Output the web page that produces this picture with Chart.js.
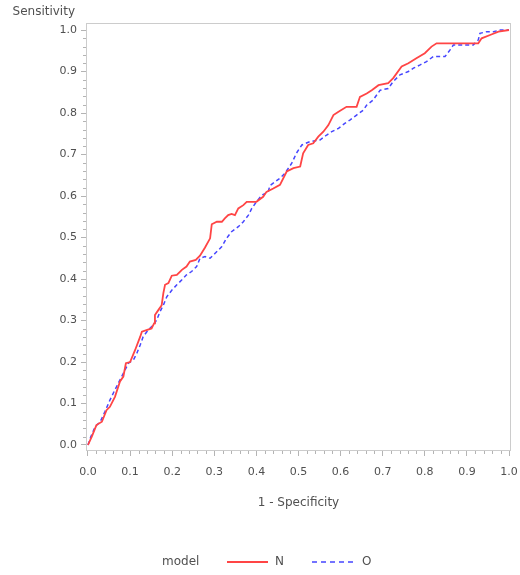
<!DOCTYPE html>
<html>
<head>
<meta charset="utf-8">
<script src="https://cdn.jsdelivr.net/npm/chart.js@4"></script>
<style>
  html, body { margin: 0; padding: 0; background: #ffffff; }
  #wrap { width: 520px; height: 575px; position: relative; }
</style>
</head>
<body>
<div id="wrap"><canvas id="c" width="520" height="575"></canvas></div>
<script>
// ---- data ----
const seriesNames = ['N', 'O'];
const legendTitle = 'model';
const xTitle = '1 - Specificity';
const yTitle = 'Sensitivity';
const tickValues = [0, 0.1, 0.2, 0.3, 0.4, 0.5, 0.6, 0.7, 0.8, 0.9, 1.0];

const xN = [0, 0.009, 0.02, 0.033, 0.044, 0.052, 0.064, 0.076, 0.084, 0.09, 0.1, 0.112, 0.124, 0.128, 0.139, 0.151, 0.157, 0.159, 0.167, 0.175, 0.179, 0.183, 0.191, 0.199, 0.211, 0.223, 0.234, 0.242, 0.256, 0.266, 0.278, 0.29, 0.294, 0.306, 0.318, 0.325, 0.333, 0.341, 0.349, 0.357, 0.369, 0.377, 0.4, 0.416, 0.424, 0.44, 0.456, 0.472, 0.488, 0.504, 0.511, 0.523, 0.535, 0.547, 0.559, 0.571, 0.583, 0.595, 0.614, 0.638, 0.646, 0.662, 0.674, 0.69, 0.713, 0.725, 0.745, 0.761, 0.78, 0.8, 0.816, 0.828, 0.868, 0.907, 0.927, 0.935, 0.955, 0.975, 1.0];
const yN = [0, 0.02, 0.048, 0.056, 0.084, 0.092, 0.116, 0.153, 0.165, 0.197, 0.2, 0.229, 0.261, 0.273, 0.277, 0.281, 0.293, 0.313, 0.325, 0.337, 0.366, 0.386, 0.39, 0.408, 0.41, 0.422, 0.43, 0.442, 0.446, 0.456, 0.476, 0.498, 0.532, 0.538, 0.538, 0.546, 0.554, 0.557, 0.554, 0.57, 0.578, 0.586, 0.586, 0.598, 0.61, 0.618, 0.627, 0.659, 0.667, 0.671, 0.703, 0.723, 0.727, 0.743, 0.755, 0.771, 0.795, 0.803, 0.815, 0.815, 0.839, 0.847, 0.855, 0.867, 0.872, 0.884, 0.912, 0.92, 0.932, 0.944, 0.96, 0.968, 0.968, 0.968, 0.968, 0.98, 0.988, 0.996, 1.0];

const xO = [0, 0.006, 0.017, 0.029, 0.04, 0.052, 0.064, 0.076, 0.088, 0.096, 0.108, 0.116, 0.124, 0.131, 0.143, 0.155, 0.163, 0.171, 0.179, 0.187, 0.199, 0.211, 0.223, 0.234, 0.246, 0.258, 0.266, 0.278, 0.29, 0.302, 0.318, 0.329, 0.341, 0.357, 0.369, 0.381, 0.389, 0.4, 0.413, 0.428, 0.432, 0.456, 0.468, 0.484, 0.495, 0.508, 0.527, 0.551, 0.567, 0.579, 0.595, 0.61, 0.622, 0.638, 0.654, 0.662, 0.677, 0.694, 0.713, 0.725, 0.741, 0.761, 0.773, 0.789, 0.804, 0.82, 0.848, 0.86, 0.868, 0.884, 0.915, 0.927, 0.931, 0.947, 0.963, 0.979, 1.0];
const yO = [0, 0.018, 0.044, 0.056, 0.08, 0.108, 0.133, 0.157, 0.181, 0.197, 0.205, 0.221, 0.241, 0.261, 0.277, 0.289, 0.301, 0.321, 0.337, 0.357, 0.373, 0.386, 0.398, 0.41, 0.418, 0.43, 0.45, 0.454, 0.45, 0.462, 0.478, 0.498, 0.514, 0.526, 0.538, 0.554, 0.57, 0.586, 0.602, 0.61, 0.625, 0.643, 0.655, 0.679, 0.703, 0.723, 0.731, 0.735, 0.747, 0.755, 0.763, 0.775, 0.783, 0.795, 0.807, 0.819, 0.831, 0.855, 0.859, 0.876, 0.892, 0.9, 0.908, 0.916, 0.924, 0.936, 0.936, 0.952, 0.964, 0.964, 0.964, 0.976, 0.992, 0.996, 0.996, 1.0, 1.0];

// ---- styles ----
const FONT = '"DejaVu Sans", Verdana, sans-serif';
const TEXT = '#505050';
const AXIS = '#b4b4b4';
const RED = '#ff4545';
const BLUE = '#4646ff';

const toPts = (xs, ys) => xs.map((x, i) => ({x: x, y: ys[i]}));

const framePlugin = {
  id: 'frame',
  afterDraw(chart) {
    const {ctx, chartArea: a, scales} = chart;
    ctx.save();
    // frame
    ctx.strokeStyle = '#cccccc';
    ctx.lineWidth = 1;
    ctx.strokeRect(Math.round(a.left) + 0.5, Math.round(a.top) + 0.5,
                   Math.round(a.right - a.left) - 1, Math.round(a.bottom - a.top) - 1);
    // minor ticks
    ctx.strokeStyle = AXIS;
    ctx.beginPath();
    for (let k = 0; k <= 50; k++) {
      if (k % 5 === 0) continue;
      const v = k / 50;
      const px = Math.round(scales.x.getPixelForValue(v)) + 0.5;
      ctx.moveTo(px, a.bottom);
      ctx.lineTo(px, a.bottom + 3);
      const py = Math.round(scales.y.getPixelForValue(v)) + 0.5;
      ctx.moveTo(a.left, py);
      ctx.lineTo(a.left - 3, py);
    }
    ctx.stroke();
    // y title
    ctx.fillStyle = TEXT;
    ctx.font = '12px ' + FONT;
    ctx.textAlign = 'right';
    ctx.textBaseline = 'middle';
    ctx.fillText(yTitle, 75, 12);
    // legend
    const ly = 562;
    ctx.textAlign = 'left';
    ctx.fillText(legendTitle, 162, ly);
    ctx.lineWidth = 1.8;
    ctx.strokeStyle = RED;
    ctx.setLineDash([]);
    ctx.beginPath(); ctx.moveTo(227, ly); ctx.lineTo(268, ly); ctx.stroke();
    ctx.fillText(seriesNames[0], 275, ly);
    ctx.strokeStyle = BLUE;
    ctx.lineWidth = 1.5;
    ctx.setLineDash([5, 4]);
    ctx.beginPath(); ctx.moveTo(312, ly); ctx.lineTo(356, ly); ctx.stroke();
    ctx.setLineDash([]);
    ctx.fillText(seriesNames[1], 362, ly);
    ctx.restore();
  }
};

new Chart(document.getElementById('c'), {
  type: 'line',
  data: {
    datasets: [
      { label: seriesNames[0], data: toPts(xN, yN), borderColor: RED, borderWidth: 1.8,
        pointRadius: 0, fill: false, tension: 0 },
      { label: seriesNames[1], data: toPts(xO, yO), borderColor: BLUE, borderWidth: 1.5,
        borderDash: [4, 3], pointRadius: 0, fill: false, tension: 0 }
    ]
  },
  options: {
    responsive: false,
    animation: false,
    devicePixelRatio: 1,
    layout: { padding: { left: 0, top: 23, right: 9, bottom: 60 } },
    plugins: { legend: { display: false }, tooltip: { enabled: false } },
    scales: {
      x: {
        type: 'linear', min: -0.00475, max: 1.00475,
        afterBuildTicks(s) { s.ticks = tickValues.map(v => ({value: v})); },
        afterFit(s) { s.height = 64; s.paddingRight = 0; s.paddingLeft = 0; },
        ticks: { autoSkip: false, maxRotation: 0, padding: 10, color: TEXT,
                 font: { family: FONT, size: 11 },
                 callback: v => Number(v).toFixed(1) },
        grid: { drawOnChartArea: false, drawTicks: true, tickLength: 5, color: AXIS, tickColor: AXIS },
        border: { display: false },
        title: { display: true, text: xTitle, color: TEXT, font: { family: FONT, size: 12 },
                 padding: { top: 0, bottom: 5 } }
      },
      y: {
        type: 'linear', min: -0.01446, max: 1.0169,
        afterBuildTicks(s) { s.ticks = tickValues.map(v => ({value: v})); },
        afterFit(s) { s.width = 86; s.paddingTop = 0; s.paddingBottom = 0; },
        ticks: { autoSkip: false, padding: 4, color: TEXT,
                 font: { family: FONT, size: 11 },
                 callback: v => Number(v).toFixed(1) },
        grid: { drawOnChartArea: false, drawTicks: true, tickLength: 5, color: AXIS, tickColor: AXIS },
        border: { display: false }
      }
    }
  },
  plugins: [framePlugin]
});
</script>
</body>
</html>
